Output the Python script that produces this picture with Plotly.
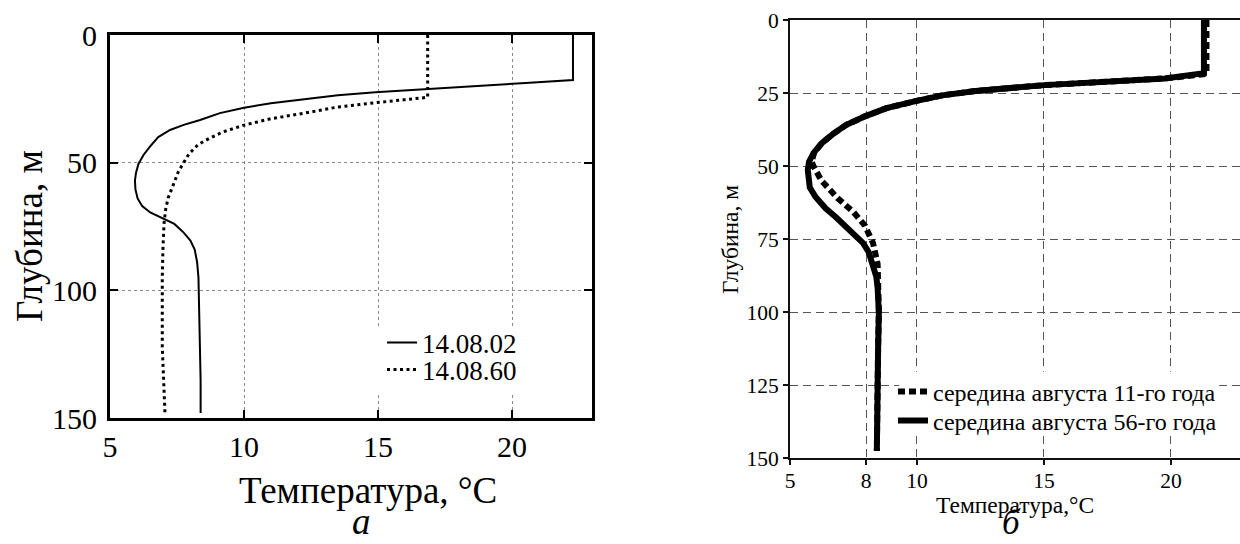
import plotly.graph_objects as go

# ---------- Data: panel "а" ----------
a_name_1 = "14.08.02"
a_temp_1 = [22.27, 22.27, 20.5, 18.5, 16.85, 14.9, 13.5, 12.3, 11.0, 10.0, 9.1, 8.36, 7.75, 7.24, 6.8,
            6.49, 6.25, 6.06, 5.97, 5.93, 5.95, 6.03, 6.2, 6.5, 7.0, 7.4, 7.74, 8.0, 8.16, 8.25, 8.3,
            8.33, 8.35, 8.38, 8.38]
a_depth_1 = [0, 17.6, 18.8, 20, 21, 22.4, 23.6, 25, 26.7, 28.5, 30.6, 33.3, 35.2, 37.2, 40,
             43.7, 47, 50.5, 54, 57, 60.5, 64, 67, 69.5, 71.9, 74, 77.3, 80.5, 84, 89, 95,
             108.5, 122, 135, 148]

a_name_2 = "14.08.60"
a_temp_2 = [16.85, 16.85, 14.93, 13.5, 12.3, 11.0, 10.0, 9.2, 8.7, 8.28, 7.95, 7.72, 7.55, 7.43, 7.3,
            7.17, 7.08, 7.02, 6.98, 6.95, 6.95, 6.95, 7.0, 7.05]
a_depth_2 = [0, 24.4, 26.5, 28.2, 30.5, 32.8, 35.3, 38, 40.5, 43, 46.5, 50.5, 53.5, 56.8, 60,
             63.8, 68, 73.3, 82, 95, 110, 122, 135, 148]

# ---------- Data: panel "б" ----------
b_name_1 = "середина августа 11-го года"
b_temp_1 = [21.4, 21.4, 19.77, 17.5, 15.03, 12.3, 11.0, 9.98, 8.8, 7.95, 7.2, 6.7, 6.25, 5.95, 5.85,
            5.93, 6.24, 6.87, 7.49, 7.95, 8.27, 8.45, 8.5, 8.5, 8.47, 8.45, 8.43, 8.42]
b_depth_1 = [0, 18.5, 20, 21.2, 22.3, 24.3, 25.8, 27.7, 30.2, 33, 36, 39, 42.2, 45.5, 48.5,
             50.2, 55, 61, 65.7, 70.4, 76.4, 83.5, 91.8, 100, 112, 124, 136, 147.6]

b_name_2 = "середина августа 56-го года"
b_temp_2 = [21.3, 21.3, 19.77, 17.5, 15.03, 12.3, 11.0, 9.98, 8.8, 7.95, 7.2, 6.7, 6.25, 5.93, 5.75,
            5.7, 5.72, 5.78, 6.0, 6.4, 6.8, 7.18, 7.55, 7.88, 8.1, 8.27, 8.4, 8.45, 8.5, 8.47,
            8.45, 8.43, 8.42]
b_depth_2 = [0, 18.2, 20, 21.2, 22.3, 24.3, 25.8, 27.7, 30.2, 33, 36, 39, 42.2, 45.5, 48.5,
             51.4, 54.5, 57.4, 60.5, 64.5, 67.5, 70.4, 73.3, 76.4, 79.5, 83.5, 88, 91.8, 100, 112,
             124, 136, 147.6]

a_xticks = [5, 10, 15, 20]
a_yticks = [0, 50, 100, 150]
b_xticks = [5, 8, 10, 15, 20]
b_yticks = [0, 25, 50, 75, 100, 125, 150]

a_xtitle = "Температура, °C"
a_ytitle = "Глубина, м"
b_xtitle = "Температура,°C"
b_ytitle = "Глубина, м"
a_label = "а"
b_label = "б"

SERIF = "Liberation Serif, Times New Roman, serif"
W, H = 1240, 544

fig = go.Figure()

fig.add_trace(go.Scatter(x=a_temp_1, y=a_depth_1, mode="lines", name=a_name_1,
                         line=dict(color="black", width=2), xaxis="x", yaxis="y", legend="legend"))
fig.add_trace(go.Scatter(x=a_temp_2, y=a_depth_2, mode="lines", name=a_name_2,
                         line=dict(color="black", width=3, dash="3px,3.5px"), xaxis="x", yaxis="y",
                         legend="legend2"))
fig.add_trace(go.Scatter(x=b_temp_1, y=b_depth_1, mode="lines", name=b_name_1,
                         line=dict(color="black", width=6, dash="7px,4px"), xaxis="x2", yaxis="y2",
                         legend="legend3"))
fig.add_trace(go.Scatter(x=b_temp_2, y=b_depth_2, mode="lines", name=b_name_2,
                         line=dict(color="black", width=6), xaxis="x2", yaxis="y2", legend="legend4"))


def px_x(p):
    return p / W


def px_y(p):
    return 1 - p / H


a_axis_common = dict(showline=True, linecolor="black", linewidth=3, mirror="ticks",
                     ticks="inside", ticklen=8, tickwidth=2, tickcolor="black",
                     showgrid=True, gridcolor="#8a8a8a", gridwidth=1, griddash="dot",
                     zeroline=False, tickfont=dict(family=SERIF, size=30, color="black"))
b_axis_common = dict(showline=True, linecolor="#111", linewidth=2,
                     ticks="outside", ticklen=5, tickwidth=1.5, tickcolor="#111",
                     showgrid=True, gridcolor="#555", gridwidth=1, griddash="8px,5px",
                     zeroline=False, tickfont=dict(family=SERIF, size=21.5, color="black"))


def leg(xp, yp, size):
    return dict(x=px_x(xp), y=px_y(yp), xanchor="left", yanchor="middle",
                bgcolor="rgba(0,0,0,0)", borderwidth=0, tracegroupgap=0,
                font=dict(family=SERIF, size=size, color="black"))


fig.update_layout(
    width=W, height=H,
    margin=dict(l=0, r=0, t=0, b=0),
    paper_bgcolor="white", plot_bgcolor="white",
    template="none",
    xaxis=dict(domain=[px_x(110), px_x(592)], range=[5, 22.98], anchor="y",
               tickvals=a_xticks, **a_axis_common),
    yaxis=dict(domain=[px_y(418), px_y(35)], range=[150, 0], anchor="x",
               tickvals=a_yticks, ticklabelstandoff=4, **a_axis_common),
    xaxis2=dict(domain=[px_x(790), 1.0], range=[5, 22.72], anchor="y2", mirror=True,
                tickvals=b_xticks, ticklabelstandoff=-3, **b_axis_common),
    yaxis2=dict(domain=[px_y(458), px_y(20)], range=[150, 0], anchor="x2",
                tickvals=b_yticks, **b_axis_common),
    legend=leg(382, 343, 27),
    legend2=leg(382, 370, 27),
    legend3=leg(893, 392, 24),
    legend4=leg(893, 421, 24),
    showlegend=True,
)

# white backgrounds behind the legends (they hide the grid, as in the original)
fig.add_shape(type="rect", xref="x", yref="y", x0=14.85, x1=20.9, y0=114, y1=141,
              fillcolor="white", line=dict(width=0), layer="between")
fig.add_shape(type="rect", xref="x2", yref="y2", x0=9.3, x1=21.9, y0=120.5, y1=142,
              fillcolor="white", line=dict(width=0), layer="between")

ann = [
    dict(text=a_xtitle, x=px_x(368), y=px_y(490), yanchor="middle", font=dict(size=37)),
    dict(text=a_ytitle, x=px_x(29), y=px_y(236), yanchor="middle", textangle=-90, font=dict(size=37)),
    dict(text="<i>" + a_label + "</i>", x=px_x(361), y=0, yanchor="bottom", font=dict(size=37)),
    dict(text=b_xtitle, x=px_x(1015), y=px_y(505), yanchor="middle", font=dict(size=23.5)),
    dict(text=b_ytitle, x=px_x(730), y=px_y(240), yanchor="middle", textangle=-90, font=dict(size=23.5)),
    dict(text="<i>" + b_label + "</i>", x=px_x(1011), y=0, yanchor="bottom", font=dict(size=35)),
]
for a in ann:
    f = a.pop("font")
    fig.add_annotation(xref="paper", yref="paper", showarrow=False, xanchor="center",
                       font=dict(family=SERIF, color="black", **f), **a)

fig.write_html("out.html", config={"displayModeBar": False},
               post_script="document.body.style.margin='0px';")
